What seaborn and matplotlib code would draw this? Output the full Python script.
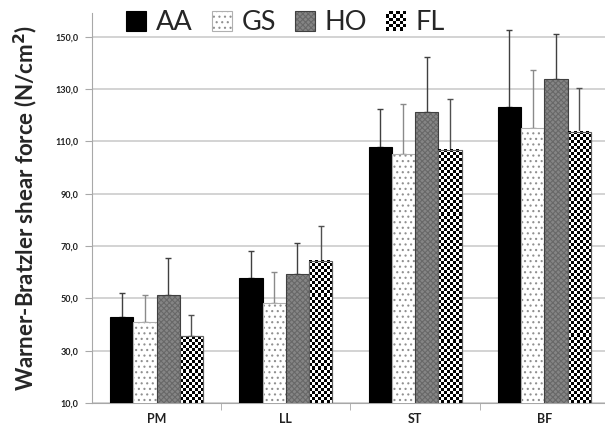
import numpy as np
import pandas as pd
import matplotlib
matplotlib.use("Agg")
import matplotlib.pyplot as plt
import seaborn as sns
from matplotlib.patches import Patch, Rectangle
from matplotlib.legend_handler import HandlerBase
from matplotlib.colors import to_rgba

# data
muscles = ["PM", "LL", "ST", "BF"]
groups = ["AA", "GS", "HO", "FL"]
aa_mean = [43.0, 57.9, 107.7, 123.3]
gs_mean = [41.1, 48.1, 105.3, 115.1]
ho_mean = [51.3, 59.2, 121.1, 134.0]
fl_mean = [35.6, 64.4, 106.8, 113.7]
aa_sd = [9.2, 10.2, 14.8, 29.4]
gs_sd = [10.2, 12.1, 18.8, 22.3]
ho_sd = [14.3, 12.1, 21.0, 16.9]
fl_sd = [7.9, 13.1, 19.4, 16.8]
yticks = [10, 30, 50, 70, 90, 110, 130, 150]

means = [aa_mean, gs_mean, ho_mean, fl_mean]
sds = [aa_sd, gs_sd, ho_sd, fl_sd]

rows = []
for g, m in zip(groups, means):
    for mus, v in zip(muscles, m):
        rows.append({"muscle": mus, "group": g, "value": v})
df = pd.DataFrame(rows)

sns.set_style("white")
plt.rcParams["font.family"] = ["Lato", "DejaVu Sans"]
plt.rcParams["hatch.linewidth"] = 0.8

YMIN, YMAX = 10, 159

# face, edge, hatch, hatch colour, error bar colour
styles = {
    "AA": ("black", "black", None, "black", "#404040"),
    "GS": ("white", "#b0b0b0", "...", "#909090", "#8a8a8a"),
    "HO": ("#858585", "#404040", "xxxxxx", "#686868", "#404040"),
    "FL": ("white", "#606060", None, "black", "#505050"),
}

fig = plt.figure(figsize=(6.05, 4.28), dpi=100)
ax = fig.add_axes([0.152, 0.0584, 0.8545, 0.911])

sns.barplot(data=df, x="muscle", y="value", hue="group", order=muscles,
            hue_order=groups, errorbar=None, width=0.72, gap=0,
            palette=["black", "white", "#858585", "white"], ax=ax,
            legend=False, zorder=3)

ax.set_xlim(-0.5, 3.5)
ax.set_ylim(YMIN, YMAX)
ax.set_yticks(yticks)
ax.set_yticklabels([f"{t},0" for t in yticks], fontsize=6.5, fontweight="bold",
                   color="#202020")
ax.yaxis.grid(True, color="#cccccc", lw=1.2, zorder=0)
ax.set_axisbelow(True)
for s in ["top", "right"]:
    ax.spines[s].set_visible(False)
ax.spines["left"].set_color("#a8a8a8")
ax.spines["bottom"].set_color("#a8a8a8")
ax.tick_params(axis="y", length=5, color="#a8a8a8", pad=5, direction="out", left=True)
ax.set_xticks(range(len(muscles)))
ax.set_xticklabels(muscles, fontsize=9, fontweight="bold", color="#202020")
ax.tick_params(axis="x", length=0, pad=7)
ax.set_xticks([0.5, 1.5, 2.5], minor=True)
ax.tick_params(axis="x", which="minor", length=5, color="#a8a8a8", direction="out",
               bottom=True)
ax.set_xlabel("")
ax.set_ylabel("Warner-Bratzler shear force (N/cm$^\\mathbf{2}$)", fontsize=16,
              fontweight="bold", labelpad=11)

# px per data unit, for the checker fill
p0 = ax.transData.transform((0, 10))
p1 = ax.transData.transform((1, 11))
px_x = p1[0] - p0[0]
px_y = p1[1] - p0[1]
cell = 3.0

for g, cont, sd in zip(groups, ax.containers, sds):
    face, edge, hatch, hcol, ecol = styles[g]
    xs, tops = [], []
    for bar in cont:
        bar.set_facecolor(face)
        bar.set_edgecolor(edge)
        bar.set_linewidth(0.8)
        if hatch:
            bar.set_hatch(hatch)
        bar._hatch_color = to_rgba(hcol)
        x0 = bar.get_x()
        w = bar.get_width()
        top = bar.get_y() + bar.get_height()
        xs.append(x0 + w / 2)
        tops.append(top)
        if g == "FL":
            h = top - YMIN
            nx = max(1, int(round(w * px_x / cell)))
            ny = max(1, int(round(h * px_y / cell)))
            chk = (np.indices((ny, nx)).sum(axis=0) % 2).astype(float)
            ax.imshow(chk, cmap="gray", extent=(x0, x0 + w, YMIN, top),
                      origin="upper", interpolation="nearest", aspect="auto",
                      zorder=3.5, vmin=0, vmax=1)
            ax.add_patch(Rectangle((x0, YMIN), w, h, fill=False, edgecolor=edge,
                                   lw=0.8, zorder=3.6))
    ax.errorbar(xs, tops, yerr=[np.zeros(len(sd)), sd], fmt="none", ecolor=ecol,
                elinewidth=1, capsize=2.5, capthick=1, zorder=2.5)
ax.set_xlim(-0.5, 3.5)
ax.set_ylim(YMIN, YMAX)


class CheckerHandler(HandlerBase):
    def create_artists(self, legend, orig_handle, xdescent, ydescent, width,
                       height, fontsize, trans):
        n = 6
        arts = [Rectangle((-xdescent, -ydescent), width, height, facecolor="white",
                          edgecolor="none", transform=trans)]
        cw, ch = width / n, height / n
        for i in range(n):
            for j in range(n):
                if (i + j) % 2 == 0:
                    arts.append(Rectangle((-xdescent + i * cw, -ydescent + j * ch), cw, ch,
                                          facecolor="black", edgecolor="none",
                                          transform=trans))
        return arts


handles = []
for g in groups:
    face, edge, hatch, hcol, ecol = styles[g]
    p = Patch(facecolor=face, edgecolor=edge, hatch=hatch, label=g, lw=0.8)
    p._hatch_color = to_rgba(hcol)
    handles.append(p)

ax.legend(handles=handles, labels=groups, handler_map={handles[3]: CheckerHandler()},
          loc="upper left", bbox_to_anchor=(0.045, 1.035), ncol=4, frameon=False,
          fontsize=19.5, handlelength=0.75, handleheight=0.75, handletextpad=0.35,
          columnspacing=0.7, borderaxespad=0)

fig.savefig("out.png", dpi=100)
